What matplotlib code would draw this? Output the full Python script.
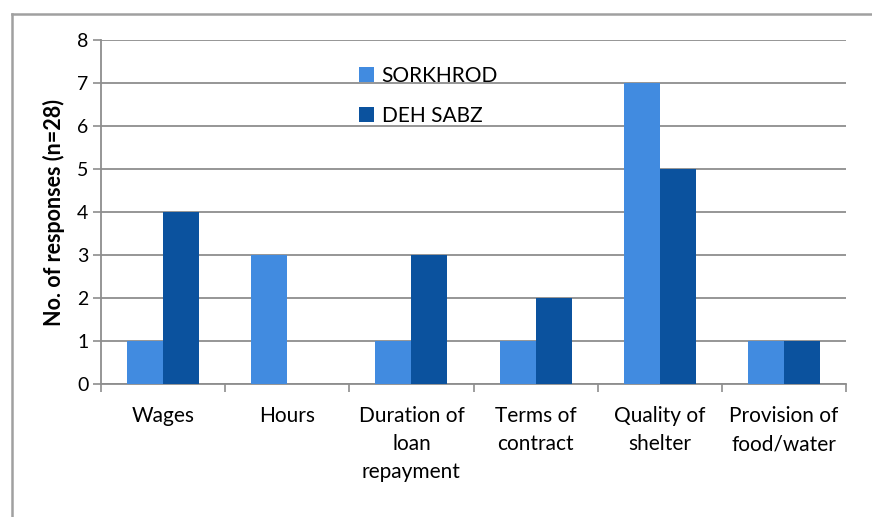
import numpy as np
import matplotlib.pyplot as plt
from matplotlib.lines import Line2D

categories = ['Wages', 'Hours', 'Duration of\nloan\nrepayment', 'Terms of\ncontract',
              'Quality of\nshelter', 'Provision of\nfood/water']
sorkhrod = [1, 3, 1, 1, 7, 1]
deh_sabz = [4, 0, 3, 2, 5, 1]
series_names = ['SORKHROD', 'DEH SABZ']

light = '#418BE0'
dark = '#0B529E'
grid_col = '#8E8E8E'

plt.rcParams['font.family'] = ['Lato', 'DejaVu Sans']

fig = plt.figure(figsize=(8.72, 5.17), dpi=100)
ax = fig.add_axes([101 / 872, 1 - 384 / 517, 745 / 872, 344 / 517])

x = np.arange(len(categories))
w = 0.29
ax.bar(x - w / 2, sorkhrod, w, color=light, label=series_names[0], zorder=3)
ax.bar(x + w / 2, deh_sabz, w, color=dark, label=series_names[1], zorder=3)

ax.set_xlim(-0.5, len(categories) - 0.5)
ax.set_ylim(0, 8)
ax.set_yticks(range(0, 9))
ax.yaxis.grid(True, color=grid_col, linewidth=1.3, zorder=0)
ax.tick_params(axis='y', labelsize=14, length=6, width=1.2, color=grid_col, pad=3)

# category boundaries as ticks, labels in the middle
ax.set_xticks(np.arange(-0.5, len(categories)), labels=[''] * (len(categories) + 1))
ax.set_xticks(x, labels=categories, minor=True)
ax.tick_params(axis='x', which='major', length=6, width=1.2, color=grid_col)
ax.tick_params(axis='x', which='minor', length=0, labelsize=15, pad=16)
for lab in ax.get_xticklabels(minor=True):
    lab.set_linespacing(1.5)

for side in ['top', 'right']:
    ax.spines[side].set_visible(False)
for side in ['left', 'bottom']:
    ax.spines[side].set_color(grid_col)
    ax.spines[side].set_linewidth(1.3)

ax.set_ylabel('No. of responses (n=28)', fontsize=15.5, fontweight='bold', labelpad=9)

ax.legend(loc='upper left', bbox_to_anchor=(340 / 872, 1 - 47 / 517), bbox_transform=fig.transFigure,
          frameon=False, fontsize=15, handlelength=0.75, handleheight=0.75, handletextpad=0.35,
          labelspacing=0.95)

# outer chart frame
fig.add_artist(Line2D([12 / 872, 12 / 872], [0, 1 - 14 / 517], color='#A0A0A0', linewidth=1.8,
                      transform=fig.transFigure))
fig.add_artist(Line2D([12 / 872, 1], [1 - 14 / 517, 1 - 14 / 517], color='#A0A0A0', linewidth=1.8,
                      transform=fig.transFigure))

fig.savefig('out.png', dpi=100)
